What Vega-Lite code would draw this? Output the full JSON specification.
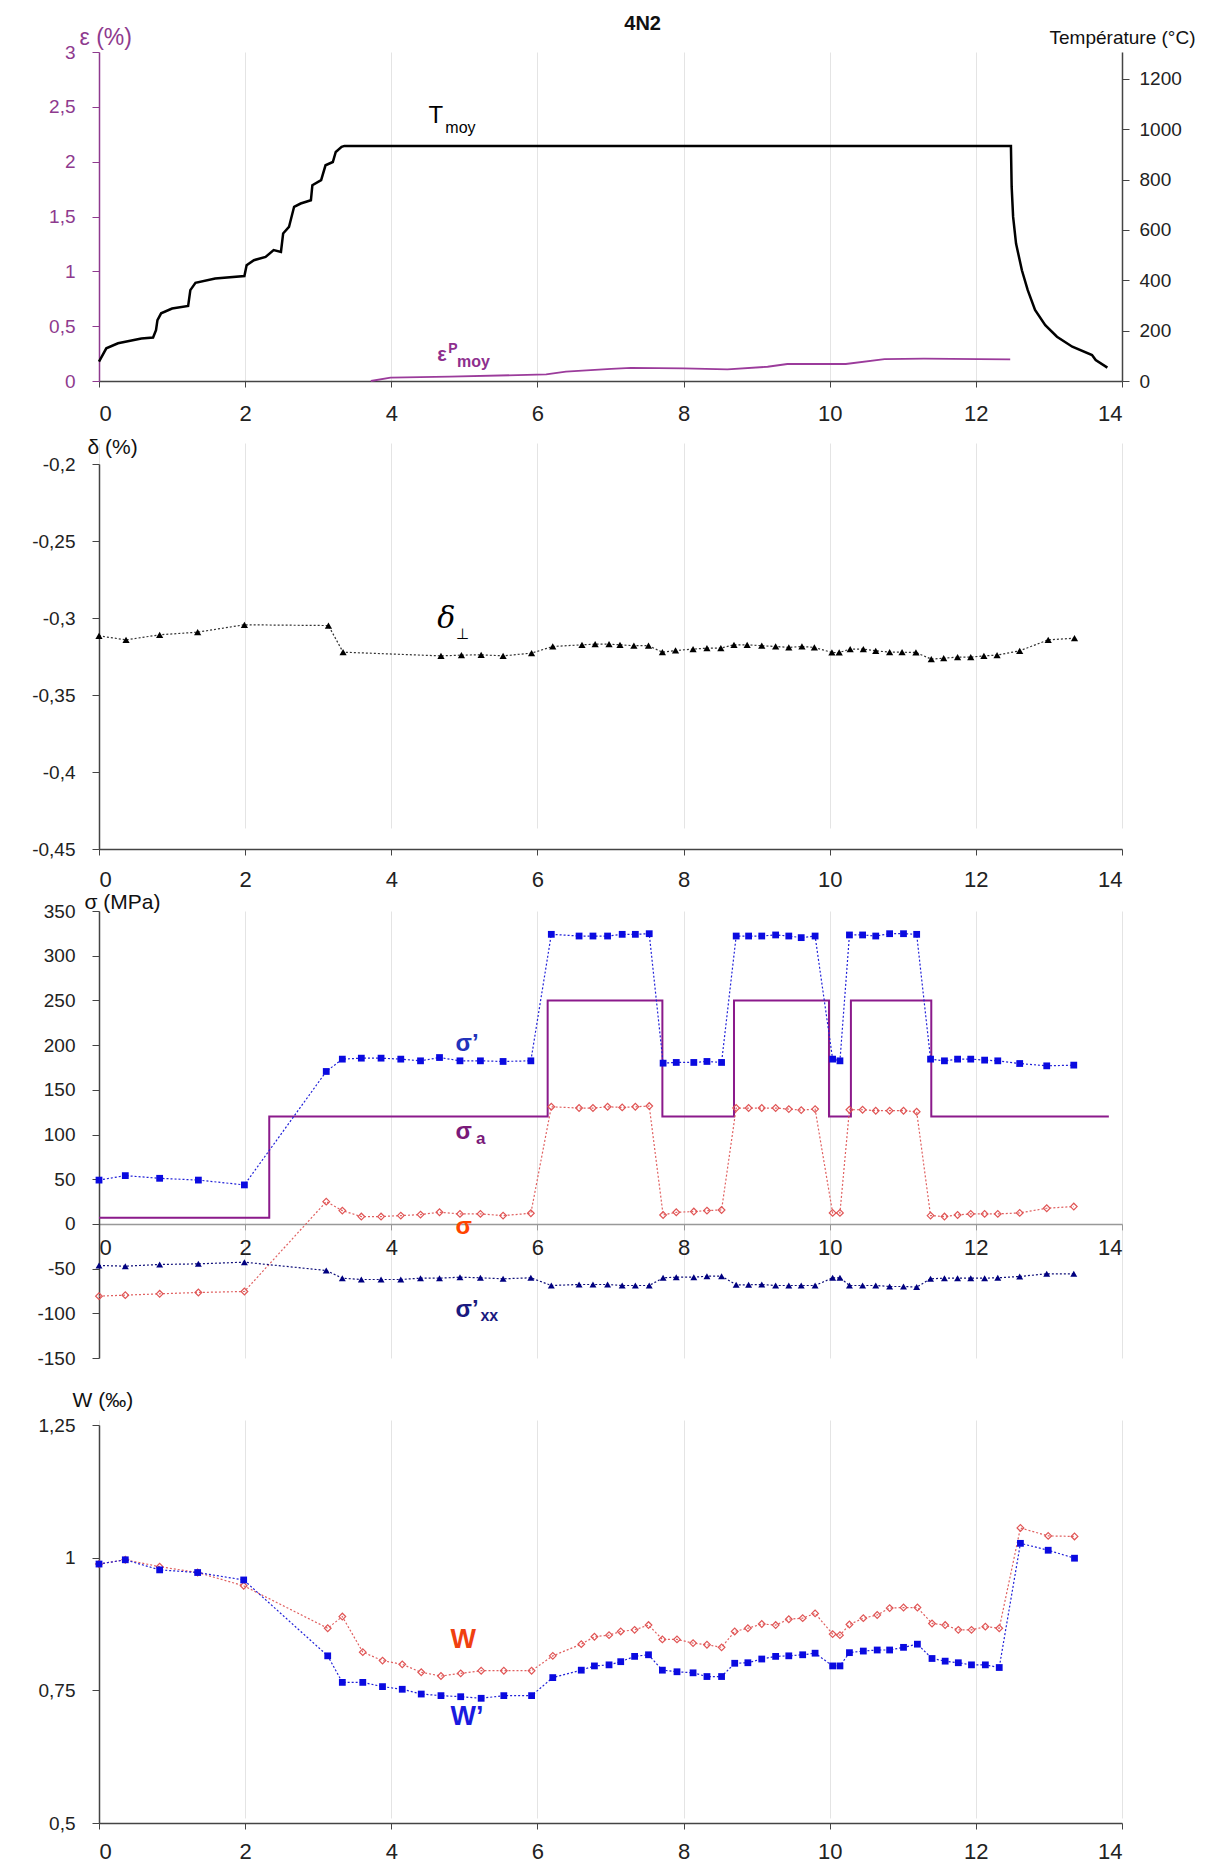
{
  "$schema": "https://vega.github.io/schema/vega-lite/v6.json",
  "padding": {"left": 31, "top": 14, "right": 5, "bottom": 0},
  "background": "white",
  "config": {
    "view": {"stroke": null},
    "font": "Liberation Sans",
    "axis": {"labelFont": "Liberation Sans", "labelFontSize": 19, "labelColor": "#222", "titleFont": "Liberation Sans", "titleFontWeight": "normal", "titleColor": "#111", "titleFontSize": 20, "domainColor": "#444", "tickColor": "#444", "domainWidth": 1.5, "gridColor": "#e4e4e4", "grid": false},
    "axisX": {"labelFontSize": 22},
    "text": {"font": "Liberation Sans"}
  },
  "datasets": {
    "temp": [
      {"x":0,"T":77},{"x":0.1,"T":130},{"x":0.26,"T":150},{"x":0.58,"T":169},{"x":0.74,"T":173},{"x":0.78,"T":202},{"x":0.8,"T":242},{"x":0.85,"T":269},{"x":1.0,"T":288},{"x":1.22,"T":298},{"x":1.25,"T":361},{"x":1.32,"T":390},{"x":1.59,"T":407},{"x":1.99,"T":417},{"x":2.02,"T":460},{"x":2.12,"T":480},{"x":2.28,"T":493},{"x":2.39,"T":520},{"x":2.49,"T":513},{"x":2.52,"T":586},{"x":2.6,"T":612},{"x":2.67,"T":692},{"x":2.76,"T":705},{"x":2.9,"T":718},{"x":2.92,"T":778},{"x":3.04,"T":798},{"x":3.1,"T":857},{"x":3.2,"T":870},{"x":3.24,"T":910},{"x":3.32,"T":930},{"x":3.36,"T":934},{"x":12.48,"T":934},{"x":12.49,"T":771},{"x":12.51,"T":652},{"x":12.55,"T":546},{"x":12.63,"T":440},{"x":12.71,"T":361},{"x":12.81,"T":282},{"x":12.95,"T":222},{"x":13.11,"T":176},{"x":13.32,"T":136},{"x":13.59,"T":103},{"x":13.64,"T":83},{"x":13.8,"T":53}
    ],
    "eps": [
      {"x":3.72,"e":0},{"x":3.99,"e":0.03},{"x":4.8,"e":0.04},{"x":6.12,"e":0.06},{"x":6.39,"e":0.085},{"x":7.01,"e":0.11},{"x":7.28,"e":0.12},{"x":8.0,"e":0.115},{"x":8.6,"e":0.106},{"x":9.15,"e":0.13},{"x":9.42,"e":0.155},{"x":10.22,"e":0.155},{"x":10.75,"e":0.2},{"x":11.29,"e":0.204},{"x":12.04,"e":0.2},{"x":12.47,"e":0.198}
    ],
    "delta": [
      {"x":0,"d":-0.3116},{"x":0.37,"d":-0.3142},{"x":0.83,"d":-0.3109},{"x":1.35,"d":-0.3092},{"x":1.99,"d":-0.3044},{"x":3.14,"d":-0.3049},{"x":3.34,"d":-0.3222},{"x":4.68,"d":-0.3246},{"x":4.96,"d":-0.3241},{"x":5.23,"d":-0.3239},{"x":5.53,"d":-0.3246},{"x":5.92,"d":-0.3228},{"x":6.21,"d":-0.3185},{"x":6.61,"d":-0.3174},{"x":6.79,"d":-0.317},{"x":6.98,"d":-0.317},{"x":7.13,"d":-0.3174},{"x":7.32,"d":-0.318},{"x":7.52,"d":-0.318},{"x":7.71,"d":-0.3222},{"x":7.89,"d":-0.3211},{"x":8.13,"d":-0.3202},{"x":8.32,"d":-0.3196},{"x":8.51,"d":-0.3196},{"x":8.69,"d":-0.3174},{"x":8.87,"d":-0.3174},{"x":9.07,"d":-0.318},{"x":9.26,"d":-0.3185},{"x":9.44,"d":-0.3191},{"x":9.62,"d":-0.3185},{"x":9.79,"d":-0.3191},{"x":10.03,"d":-0.3224},{"x":10.13,"d":-0.3224},{"x":10.28,"d":-0.3202},{"x":10.46,"d":-0.3202},{"x":10.63,"d":-0.3213},{"x":10.82,"d":-0.3222},{"x":10.99,"d":-0.3222},{"x":11.18,"d":-0.3224},{"x":11.39,"d":-0.3267},{"x":11.56,"d":-0.3261},{"x":11.75,"d":-0.3254},{"x":11.93,"d":-0.3254},{"x":12.11,"d":-0.3246},{"x":12.29,"d":-0.3241},{"x":12.6,"d":-0.3213},{"x":12.99,"d":-0.3142},{"x":13.35,"d":-0.3131}
    ],
    "stress": [
      {"x":0,"sp":49,"s":-80.8,"sxx":-46.5},{"x":0.36,"sp":54,"s":-79.7,"sxx":-47.3},{"x":0.83,"sp":51,"s":-78.2,"sxx":-45.4},{"x":1.36,"sp":49,"s":-76.7,"sxx":-44.7},{"x":1.99,"sp":43.6,"s":-75.6,"sxx":-42.8},{"x":3.11,"sp":170.5,"s":24.9,"sxx":-52.1},{"x":3.33,"sp":184.3,"s":14.9,"sxx":-60.7},{"x":3.59,"sp":185.4,"s":8.2,"sxx":-62.2},{"x":3.86,"sp":185.4,"s":8.2,"sxx":-62.2},{"x":4.13,"sp":184.3,"s":9.3,"sxx":-62.2},{"x":4.4,"sp":182.4,"s":10.4,"sxx":-60.7},{"x":4.66,"sp":186.1,"s":13,"sxx":-60.7},{"x":4.94,"sp":182.4,"s":11.2,"sxx":-59.6},{"x":5.22,"sp":182.4,"s":11.2,"sxx":-60.3},{"x":5.53,"sp":181.7,"s":9.3,"sxx":-61.4},{"x":5.91,"sp":182.4,"s":11.9,"sxx":-60.3},{"x":6.19,"sp":323.9,"s":131,"sxx":-68.9},{"x":6.57,"sp":322,"s":129.6,"sxx":-67.8},{"x":6.76,"sp":322,"s":129.6,"sxx":-67.8},{"x":6.96,"sp":322,"s":131,"sxx":-67.8},{"x":7.16,"sp":323.9,"s":130.3,"sxx":-68.9},{"x":7.34,"sp":323.9,"s":131,"sxx":-68.9},{"x":7.53,"sp":324.6,"s":131.8,"sxx":-68.9},{"x":7.72,"sp":179.8,"s":10,"sxx":-60.3},{"x":7.9,"sp":180.6,"s":13,"sxx":-59.6},{"x":8.14,"sp":180.6,"s":13.8,"sxx":-59.6},{"x":8.32,"sp":181.7,"s":14.9,"sxx":-58.5},{"x":8.52,"sp":180.6,"s":15.6,"sxx":-58.5},{"x":8.72,"sp":322,"s":129.6,"sxx":-68.1},{"x":8.89,"sp":322,"s":129.6,"sxx":-68.1},{"x":9.07,"sp":322,"s":129.6,"sxx":-67.8},{"x":9.26,"sp":323.2,"s":129.6,"sxx":-68.9},{"x":9.44,"sp":322,"s":128.4,"sxx":-68.9},{"x":9.61,"sp":320.2,"s":127.3,"sxx":-68.9},{"x":9.8,"sp":322,"s":128.4,"sxx":-68.9},{"x":10.04,"sp":184.3,"s":12.3,"sxx":-60.3},{"x":10.14,"sp":182.4,"s":12.3,"sxx":-60.3},{"x":10.27,"sp":323.2,"s":127.7,"sxx":-68.9},{"x":10.45,"sp":323.2,"s":127.7,"sxx":-68.9},{"x":10.63,"sp":322,"s":126.6,"sxx":-68.9},{"x":10.82,"sp":324.6,"s":126.6,"sxx":-70},{"x":11.01,"sp":324.6,"s":126.6,"sxx":-70},{"x":11.19,"sp":323.9,"s":125.5,"sxx":-70.7},{"x":11.38,"sp":184.3,"s":9.3,"sxx":-61.4},{"x":11.57,"sp":182.4,"s":8.2,"sxx":-60.7},{"x":11.75,"sp":184.3,"s":10,"sxx":-60.7},{"x":11.93,"sp":184.3,"s":11.2,"sxx":-60.7},{"x":12.12,"sp":183.2,"s":11.2,"sxx":-60.7},{"x":12.3,"sp":182.4,"s":11.2,"sxx":-60.3},{"x":12.6,"sp":179.4,"s":12.3,"sxx":-58.8},{"x":12.97,"sp":176.8,"s":17.5,"sxx":-55.8},{"x":13.34,"sp":177.6,"s":19.4,"sxx":-55.8}
    ],
    "sa": [
      {"x":0,"v":7},{"x":2.33,"v":120},{"x":6.14,"v":250},{"x":7.71,"v":120},{"x":8.69,"v":250},{"x":9.99,"v":120},{"x":10.29,"v":250},{"x":11.39,"v":120},{"x":13.82,"v":120}
    ],
    "work": [
      {"x":0,"w":0.988,"wp":0.988},{"x":0.36,"w":0.996,"wp":0.996},{"x":0.83,"w":0.983,"wp":0.977},{"x":1.35,"w":0.972,"wp":0.972},{"x":1.98,"w":0.947,"wp":0.958},{"x":3.13,"w":0.867,"wp":0.815},{"x":3.33,"w":0.889,"wp":0.765},{"x":3.61,"w":0.822,"wp":0.765},{"x":3.88,"w":0.806,"wp":0.757},{"x":4.15,"w":0.799,"wp":0.752},{"x":4.41,"w":0.784,"wp":0.743},{"x":4.68,"w":0.777,"wp":0.74},{"x":4.95,"w":0.782,"wp":0.738},{"x":5.23,"w":0.787,"wp":0.735},{"x":5.54,"w":0.787,"wp":0.74},{"x":5.92,"w":0.787,"wp":0.74},{"x":6.21,"w":0.815,"wp":0.774},{"x":6.6,"w":0.837,"wp":0.788},{"x":6.78,"w":0.851,"wp":0.796},{"x":6.98,"w":0.854,"wp":0.798},{"x":7.14,"w":0.861,"wp":0.804},{"x":7.33,"w":0.864,"wp":0.814},{"x":7.52,"w":0.873,"wp":0.817},{"x":7.71,"w":0.846,"wp":0.788},{"x":7.91,"w":0.846,"wp":0.785},{"x":8.13,"w":0.839,"wp":0.783},{"x":8.32,"w":0.836,"wp":0.776},{"x":8.52,"w":0.831,"wp":0.776},{"x":8.7,"w":0.861,"wp":0.801},{"x":8.88,"w":0.867,"wp":0.802},{"x":9.07,"w":0.875,"wp":0.809},{"x":9.26,"w":0.873,"wp":0.814},{"x":9.44,"w":0.884,"wp":0.815},{"x":9.63,"w":0.886,"wp":0.817},{"x":9.8,"w":0.895,"wp":0.82},{"x":10.04,"w":0.856,"wp":0.796},{"x":10.14,"w":0.854,"wp":0.796},{"x":10.27,"w":0.874,"wp":0.821},{"x":10.46,"w":0.886,"wp":0.824},{"x":10.65,"w":0.892,"wp":0.826},{"x":10.82,"w":0.905,"wp":0.826},{"x":11.01,"w":0.906,"wp":0.831},{"x":11.2,"w":0.906,"wp":0.837},{"x":11.4,"w":0.876,"wp":0.81},{"x":11.58,"w":0.873,"wp":0.805},{"x":11.76,"w":0.864,"wp":0.802},{"x":11.94,"w":0.864,"wp":0.798},{"x":12.13,"w":0.87,"wp":0.798},{"x":12.32,"w":0.867,"wp":0.793},{"x":12.61,"w":1.056,"wp":1.027},{"x":12.99,"w":1.041,"wp":1.014},{"x":13.35,"w":1.04,"wp":0.999}
    ]
  },
  "vconcat": [
    {
      "width": 1023, "height": 329,
      "encoding": {"x": {"field": "x", "type": "quantitative", "scale": {"domain": [0, 14], "nice": false, "zero": false}, "axis": {"values": [0,2,4,6,8,10,12,14], "grid": true, "title": null, "tickSize": 6, "labelPadding": 16}}},
      "layer": [
        {
          "encoding": {"y": {"field": "e", "type": "quantitative", "scale": {"domain": [0, 3], "nice": false, "zero": false}, "axis": {"orient": "left", "values": [0,0.5,1,1.5,2,2.5,3], "labelExpr": "replace(datum.value + '', '.', ',')", "labelColor": "#8e3a8e", "domainColor": "#8e3a8e", "tickColor": "#8e3a8e", "tickSize": 7, "labelPadding": 17, "title": "ε (%)", "titleColor": "#8e3a8e", "titleAngle": 0, "titleAlign": "left", "titleBaseline": "middle", "titleX": -20, "titleY": -15, "titleFontSize": 23}}},
          "layer": [
            {"data": {"name": "eps"}, "mark": {"type": "line", "color": "#9b3b9b", "strokeWidth": 1.8}},
            {"data": {"values": [{"x": 4.51, "e": 2.42, "t": "T"}]}, "mark": {"type": "text", "align": "left", "baseline": "middle", "fontSize": 24, "color": "#000"}, "encoding": {"text": {"field": "t"}}},
            {"data": {"values": [{"x": 4.74, "e": 2.31, "t": "moy"}]}, "mark": {"type": "text", "align": "left", "baseline": "middle", "fontSize": 16, "color": "#000"}, "encoding": {"text": {"field": "t"}}},
            {"data": {"values": [{"x": 4.63, "e": 0.24, "t": "ε"}]}, "mark": {"type": "text", "align": "left", "baseline": "middle", "fontSize": 20, "fontWeight": "bold", "color": "#8e2f8e"}, "encoding": {"text": {"field": "t"}}},
            {"data": {"values": [{"x": 4.78, "e": 0.29, "t": "P"}]}, "mark": {"type": "text", "align": "left", "baseline": "middle", "fontSize": 14, "fontWeight": "bold", "color": "#8e2f8e"}, "encoding": {"text": {"field": "t"}}},
            {"data": {"values": [{"x": 4.9, "e": 0.17, "t": "moy"}]}, "mark": {"type": "text", "align": "left", "baseline": "middle", "fontSize": 16, "fontWeight": "bold", "color": "#8e2f8e"}, "encoding": {"text": {"field": "t"}}},
            {"data": {"values": [{"x": 7.44, "e": 3.255, "t": "4N2"}]}, "mark": {"type": "text", "align": "center", "baseline": "middle", "fontSize": 20, "fontWeight": "bold", "color": "#111"}, "encoding": {"text": {"field": "t"}}}
          ]
        },
        {
          "data": {"name": "temp"},
          "mark": {"type": "line", "color": "#000", "strokeWidth": 2.5},
          "encoding": {"y": {"field": "T", "type": "quantitative", "scale": {"domain": [0, 1307], "nice": false, "zero": false}, "axis": {"orient": "right", "values": [0,200,400,600,800,1000,1200], "labelExpr": "datum.value + ''", "tickSize": 7, "labelPadding": 10, "title": "Température (°C)", "titleAngle": 0, "titleAlign": "center", "titleBaseline": "middle", "titleX": 0, "titleY": -15, "titleFontSize": 19}}}
        }
      ],
      "resolve": {"scale": {"y": "independent"}}
    },
    {
      "width": 1023, "height": 406,
      "encoding": {
        "x": {"field": "x", "type": "quantitative", "scale": {"domain": [0, 14], "nice": false, "zero": false}, "axis": {"values": [0,2,4,6,8,10,12,14], "grid": true, "title": null, "tickSize": 6, "labelPadding": 14}},
        "y": {"field": "d", "type": "quantitative", "scale": {"domain": [-0.45, -0.2], "nice": false, "zero": false, "range": [406, 21]}, "axis": {"values": [-0.45,-0.4,-0.35,-0.3,-0.25,-0.2], "labelExpr": "replace(datum.value + '', '.', ',')", "tickSize": 7, "labelPadding": 17, "title": "δ (%)", "titleAngle": 0, "titleAlign": "left", "titleBaseline": "middle", "titleX": -12, "titleY": 4, "titleFontSize": 21}}
      },
      "layer": [
        {"data": {"name": "delta"}, "mark": {"type": "line", "color": "#333", "strokeWidth": 1.2, "strokeDash": [2, 2]}},
        {"data": {"name": "delta"}, "mark": {"type": "point", "shape": "triangle-up", "filled": true, "color": "#000", "size": 52, "opacity": 1}},
        {"data": {"values": [{"x": 4.63, "d": -0.3005, "t": "δ"}]}, "mark": {"type": "text", "align": "left", "baseline": "middle", "fontSize": 30, "font": "DejaVu Serif", "fontStyle": "italic", "color": "#000"}, "encoding": {"text": {"field": "t"}}},
        {"data": {"values": [{"x": 4.88, "d": -0.3103, "t": "⊥"}]}, "mark": {"type": "text", "align": "left", "baseline": "middle", "fontSize": 15, "color": "#000"}, "encoding": {"text": {"field": "t"}}}
      ]
    },
    {
      "width": 1023, "height": 447,
      "encoding": {
        "x": {"field": "x", "type": "quantitative", "scale": {"domain": [0, 14], "nice": false, "zero": false}, "axis": {"values": [0,2,4,6,8,10,12,14], "grid": true, "title": null, "tickSize": 6, "labelPadding": 8, "offset": -134.1, "domainColor": "#999", "tickColor": "#999"}}
      },
      "layer": [
        {"data": {"name": "sa"}, "mark": {"type": "line", "interpolate": "step-after", "color": "#8b1a8b", "strokeWidth": 2},
         "encoding": {"y": {"field": "v", "type": "quantitative", "scale": {"domain": [-150, 350], "nice": false, "zero": false}, "axis": {"values": [-150,-100,-50,0,50,100,150,200,250,300,350], "labelExpr": "replace(datum.value + '', '.', ',')", "tickSize": 7, "labelPadding": 17, "title": "σ (MPa)", "titleAngle": 0, "titleAlign": "left", "titleBaseline": "middle", "titleX": -15, "titleY": -9, "titleFontSize": 21}}}},
        {"data": {"name": "stress"}, "mark": {"type": "line", "color": "#2020d8", "strokeWidth": 1.2, "strokeDash": [2, 2]}, "encoding": {"y": {"field": "sp", "type": "quantitative"}}},
        {"data": {"name": "stress"}, "mark": {"type": "point", "shape": "square", "filled": true, "color": "#0a0ae0", "size": 46, "opacity": 1}, "encoding": {"y": {"field": "sp", "type": "quantitative"}}},
        {"data": {"name": "stress"}, "mark": {"type": "line", "color": "#e06060", "strokeWidth": 1.2, "strokeDash": [2, 2]}, "encoding": {"y": {"field": "s", "type": "quantitative"}}},
        {"data": {"name": "stress"}, "mark": {"type": "point", "shape": "diamond", "filled": false, "color": "#e05555", "strokeWidth": 1.2, "size": 45, "opacity": 1}, "encoding": {"y": {"field": "s", "type": "quantitative"}}},
        {"data": {"name": "stress"}, "mark": {"type": "line", "color": "#10107a", "strokeWidth": 1.2, "strokeDash": [2, 2]}, "encoding": {"y": {"field": "sxx", "type": "quantitative"}}},
        {"data": {"name": "stress"}, "mark": {"type": "point", "shape": "triangle-up", "filled": true, "color": "#000080", "size": 48, "opacity": 1}, "encoding": {"y": {"field": "sxx", "type": "quantitative"}}},
        {"data": {"values": [{"x": 4.88, "v": 201, "t": "σ’"}]}, "mark": {"type": "text", "align": "left", "baseline": "middle", "fontSize": 24, "fontWeight": "bold", "color": "#2233bb"}, "encoding": {"y": {"field": "v", "type": "quantitative"}, "text": {"field": "t"}}},
        {"data": {"values": [{"x": 4.88, "v": 103, "t": "σ"}]}, "mark": {"type": "text", "align": "left", "baseline": "middle", "fontSize": 24, "fontWeight": "bold", "color": "#7a1a7a"}, "encoding": {"y": {"field": "v", "type": "quantitative"}, "text": {"field": "t"}}},
        {"data": {"values": [{"x": 5.16, "v": 95, "t": "a"}]}, "mark": {"type": "text", "align": "left", "baseline": "middle", "fontSize": 17, "fontWeight": "bold", "color": "#7a1a7a"}, "encoding": {"y": {"field": "v", "type": "quantitative"}, "text": {"field": "t"}}},
        {"data": {"values": [{"x": 4.88, "v": -4, "t": "σ"}]}, "mark": {"type": "text", "align": "left", "baseline": "middle", "fontSize": 24, "fontWeight": "bold", "color": "#ff4400"}, "encoding": {"y": {"field": "v", "type": "quantitative"}, "text": {"field": "t"}}},
        {"data": {"values": [{"x": 4.88, "v": -96, "t": "σ’"}]}, "mark": {"type": "text", "align": "left", "baseline": "middle", "fontSize": 24, "fontWeight": "bold", "color": "#1a1a80"}, "encoding": {"y": {"field": "v", "type": "quantitative"}, "text": {"field": "t"}}},
        {"data": {"values": [{"x": 5.22, "v": -103, "t": "xx"}]}, "mark": {"type": "text", "align": "left", "baseline": "middle", "fontSize": 16, "fontWeight": "bold", "color": "#1a1a80"}, "encoding": {"y": {"field": "v", "type": "quantitative"}, "text": {"field": "t"}}}
      ]
    },
    {
      "width": 1023, "height": 403,
      "encoding": {
        "x": {"field": "x", "type": "quantitative", "scale": {"domain": [0, 14], "nice": false, "zero": false}, "axis": {"values": [0,2,4,6,8,10,12,14], "grid": true, "title": null, "tickSize": 6, "labelPadding": 12}}
      },
      "layer": [
        {"data": {"name": "work"}, "mark": {"type": "line", "color": "#e06060", "strokeWidth": 1.2, "strokeDash": [2, 2]},
         "encoding": {"y": {"field": "w", "type": "quantitative", "scale": {"domain": [0.5, 1.25], "nice": false, "zero": false, "range": [403, 5]}, "axis": {"values": [0.5,0.75,1,1.25], "labelExpr": "replace(datum.value + '', '.', ',')", "tickSize": 7, "labelPadding": 17, "title": "W (‰)", "titleAngle": 0, "titleAlign": "left", "titleBaseline": "middle", "titleX": -27, "titleY": -20, "titleFontSize": 21}}}},
        {"data": {"name": "work"}, "mark": {"type": "point", "shape": "diamond", "filled": false, "color": "#e05555", "strokeWidth": 1.2, "size": 45, "opacity": 1}, "encoding": {"y": {"field": "w", "type": "quantitative"}}},
        {"data": {"name": "work"}, "mark": {"type": "line", "color": "#2020d8", "strokeWidth": 1.2, "strokeDash": [2, 2]}, "encoding": {"y": {"field": "wp", "type": "quantitative"}}},
        {"data": {"name": "work"}, "mark": {"type": "point", "shape": "square", "filled": true, "color": "#0a0ae0", "size": 46, "opacity": 1}, "encoding": {"y": {"field": "wp", "type": "quantitative"}}},
        {"data": {"values": [{"x": 4.81, "w": 0.845, "t": "W"}]}, "mark": {"type": "text", "align": "left", "baseline": "middle", "fontSize": 27, "fontWeight": "bold", "color": "#f04010"}, "encoding": {"y": {"field": "w", "type": "quantitative"}, "text": {"field": "t"}}},
        {"data": {"values": [{"x": 4.81, "w": 0.7, "t": "W’"}]}, "mark": {"type": "text", "align": "left", "baseline": "middle", "fontSize": 27, "fontWeight": "bold", "color": "#1a1adf"}, "encoding": {"y": {"field": "w", "type": "quantitative"}, "text": {"field": "t"}}}
      ]
    }
  ],
  "spacing": 62,
  "bounds": "flush"
}
